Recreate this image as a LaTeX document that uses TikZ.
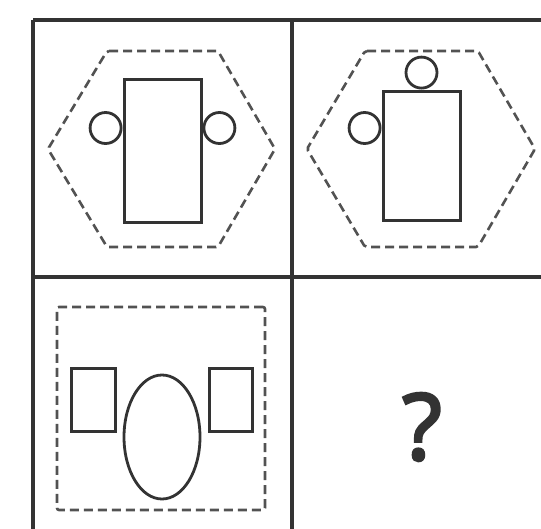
\documentclass[tikz,border=0pt]{standalone}
\usepackage{fontspec}
\newfontfamily\askfont{Open Sans}[FakeBold=3]
\usetikzlibrary{positioning,shapes.geometric}
\definecolor{ink}{HTML}{333333}
\begin{document}
\begin{tikzpicture}[
  x=1pt, y=-1pt,
  grid/.style={draw=ink, line width=3.4pt},
  outline/.style={draw=ink!85, dash pattern=on 9pt off 5pt, line width=2.6pt, rounded corners=2pt},
  box/.style={draw=ink, line width=3pt, inner sep=0pt},
  ring/.style={draw=ink, circle, line width=2.8pt, inner sep=0pt, minimum size=31pt},
  blob/.style={draw=ink, ellipse, line width=2.8pt, inner sep=0pt}
]
\useasboundingbox (0,0) rectangle (541,528);
\clip (0,0) rectangle (541,528);
% grid
\coordinate (tl) at (33,20);
\coordinate (tm) at (292,20);
\coordinate (ml) at (33,277);
\draw[grid] (tl) -- (560,20);
\draw[grid] (ml) -- (560,277);
\draw[grid] (tl) -- (33,560);
\draw[grid] (tm) -- (292,560);
% cell 1
\draw[outline] (107,51) -- (218,51) -- (275,149) -- (218,247) -- (107,247) -- (48,149) -- cycle;
\node[box, minimum width=77pt, minimum height=143pt] (bodyA) at (162.5,150.5) {};
\node[ring, anchor=east] (earAl) at (bodyA.west |- 0,128) {};
\node[ring, anchor=west] (earAr) at (bodyA.east |- 0,128) {};
% cell 2
\draw[outline] (365,51) -- (478,51) -- (535,149) -- (478,247) -- (365,247) -- (307,149) -- cycle;
\node[box, minimum width=77pt, minimum height=129pt] (bodyB) at (421.5,155.5) {};
\node[ring, anchor=south] (earBt) at (bodyB.north) {};
\node[ring, anchor=east] (earBl) at (bodyB.west |- 0,128) {};
% cell 3
\node[box, outline, minimum width=208pt, minimum height=203pt] (frameC) at (161,408.5) {};
\node[box, minimum width=44pt, minimum height=63pt] (sideCl) at (93,399.5) {};
\node[box, minimum width=43pt, minimum height=63pt] (sideCr) at (230.5,399.5) {};
\node[blob, minimum width=76pt, minimum height=124pt] (eggC) at (162,437) {};
% cell 4
\node[text=ink, font=\askfont\fontsize{92}{92}\selectfont, inner sep=0pt] (ask) at (422,427) {?};
\end{tikzpicture}
\end{document}
